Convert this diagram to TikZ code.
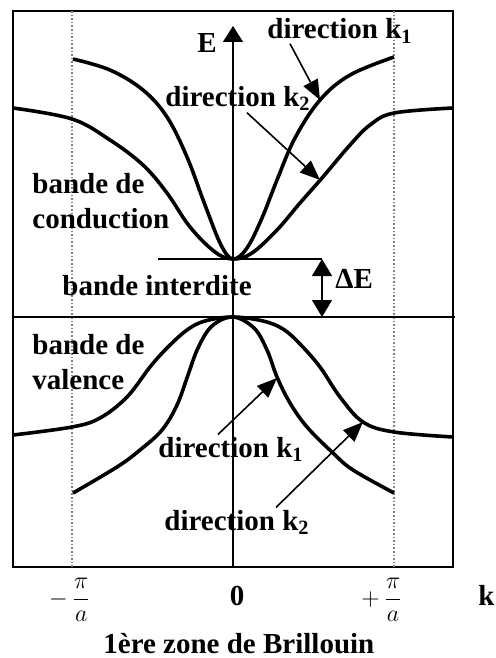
\documentclass[tikz,border=0pt]{standalone}
\usepackage{fontspec}
\setmainfont{Liberation Serif}
\usetikzlibrary{arrows.meta,positioning,calc}

\begin{document}
\begin{tikzpicture}[x=0.5pt,y=-0.5pt,
        band/.style={line width=1.8pt, line join=round},
        lbl/.style={font=\bfseries\fontsize{14.5}{17.5}\selectfont, inner sep=0pt, align=left},
        pointer/.style={-{Triangle[length=10pt,width=8pt]}, line width=0.8pt},
        zone/.style={densely dotted, gray, line width=0.8pt}
    ]
        \useasboundingbox (0,0) rectangle (495,658);

        % Cadre et limites de la zone
        \draw[line width=0.8pt] (13,11) rectangle (453,567);
        \draw[zone] (72,11) -- (72,567);
        \draw[zone] (394,11) -- (394,567);

        % Axe E
        \coordinate (axbot) at (233,567);
        \coordinate (axtop) at (233,26);
        \draw[line width=0.6pt, -{Triangle[length=8pt,width=10pt]}] (axbot) -- (axtop);

        % Niveaux
        \coordinate (cmin) at (233,259);
        \coordinate (gapL) at (158,259);
        \coordinate (gapR) at (322,259);
        \coordinate (vL) at (13,317);
        \coordinate (vR) at (455,317);
        \coordinate (vgap) at (322,317);
        \draw[line width=0.6pt] (gapL) -- (gapR);
        \draw[line width=0.6pt] (vL) -- (vR);
        \draw[line width=0.7pt, {Triangle[length=8.5pt,width=10pt]}-{Triangle[length=8.5pt,width=10pt]}] (gapR) -- (vgap);

        % Bande de conduction
        \draw[band] plot[smooth, tension=0.6] coordinates {(73,59) (110,70) (143,90) (167,117) (187,157) (205,205) (221,245) (233,259)
            (247,248) (262,218) (277,180) (295,138) (320,100) (350,75) (394,57)};
        \draw[band] plot[smooth, tension=0.6] coordinates {(13,108) (72,119) (110,140) (143,165) (167,193) (190,227) (215,252) (233,259)
            (252,253) (277,230) (300,203) (322,178) (350,145) (370,125) (394,113) (453,108)};

        % Bande de valence
        \draw[band] plot[smooth, tension=0.6] coordinates {(13,435) (72,427) (100,418) (127,397) (150,367) (167,348) (187,330) (205,321) (233,317)
            (263,321) (283,329) (300,344) (320,367) (340,397) (363,422) (394,432) (453,437)};
        \draw[band] plot[smooth, tension=0.6] coordinates {(73,493) (117,467) (140,450) (162,430) (177,405) (188,375) (198,348) (212,326) (233,317)
            (254,328) (267,350) (277,377) (290,403) (307,427) (333,453) (353,470) (394,493)};

        % Textes
        \node[lbl, anchor=base west] (E) at (197,53) {E};
        \node[lbl, anchor=base west] (dk1c) at (267,39) {direction k\textsubscript{1}};
        \node[lbl, anchor=base west] (dk2c) at (165,106) {direction k\textsubscript{2}};
        \node[lbl, anchor=base west] (cond) at (32,228) {bande de\\conduction};
        \node[lbl, anchor=base west] (gap) at (62,295) {bande interdite};
        \node[lbl, anchor=base west] (dE) at (335,288) {ΔE};
        \node[lbl, anchor=base west] (val) at (32,389) {bande de\\valence};
        \node[lbl, anchor=base west] (dk1v) at (158,457) {direction k\textsubscript{1}};
        \node[lbl, anchor=base west] (dk2v) at (164,530) {direction k\textsubscript{2}};

        % Axe k
        \node[font=\fontsize{13}{15}\selectfont] (mpi) at (70,600) {$\displaystyle -\,\frac{\pi}{a}$};
        \node[lbl, anchor=base] (zero) at (237,605) {0};
        \node[font=\fontsize{13}{15}\selectfont] (ppi) at (382,600) {$\displaystyle +\,\frac{\pi}{a}$};
        \node[lbl, anchor=base west] (k) at (478,605) {k};
        \node[lbl, anchor=base west] (bz) at (103,653) {1ère zone de Brillouin};

        % Fleches
        \coordinate (tk1c) at (320,100);
        \coordinate (tk2c) at (320,180);
        \coordinate (tk1v) at (277,378);
        \coordinate (tk2v) at (363,422);
        \draw[pointer] ([xshift=11.5pt]dk1c.south west) -- (tk1c);
        \draw[pointer] ([xshift=41pt,yshift=-1pt]dk2c.south west) -- (tk2c);
        \draw[pointer] ([xshift=30pt,yshift=1pt]dk1v.north west) -- (tk1v);
        \draw[pointer] ([xshift=56pt,yshift=1pt]dk2v.north west) -- (tk2v);
    \end{tikzpicture}
\end{document}
